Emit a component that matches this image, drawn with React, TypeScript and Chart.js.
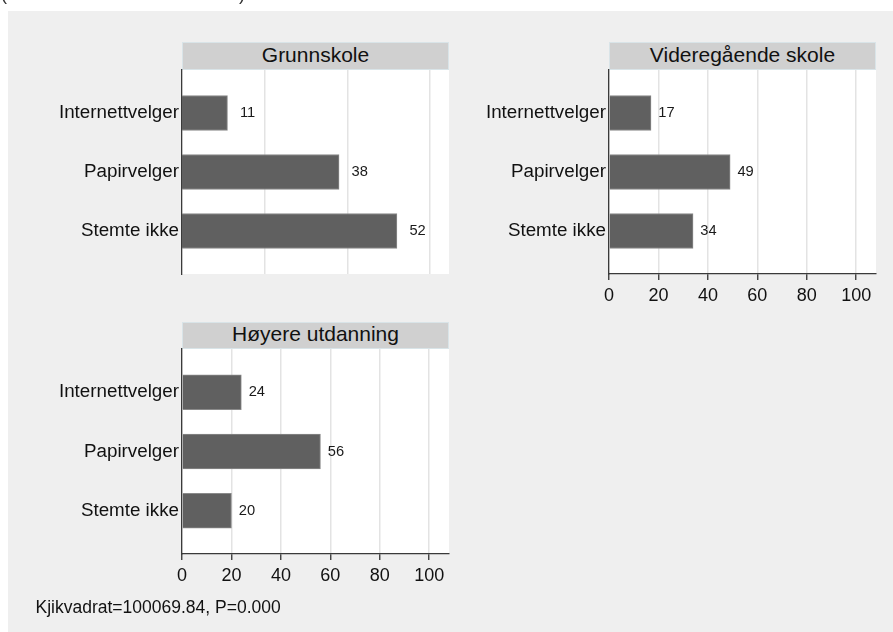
import React, { useEffect, useRef } from "react";
import { Chart, registerables } from "chart.js";

Chart.register(...registerables);

// Answer categories shown on the y axis of every panel
const categories = ["Internettvelger", "Papirvelger", "Stemte ikke"];

// Panel headings (education level)
const titleGrunnskole = "Grunnskole";
const titleVideregaende = "Videregående skole";
const titleHoyere = "Høyere utdanning";

// Percent per category within each education level
const grunnskole = [11, 38, 52];
const videregaende = [17, 49, 34];
const hoyere = [24, 56, 20];

// Tick values on the x axes
const ticksFull = [0, 20, 40, 60, 80, 100];
const ticksShort = [20, 40, 60];

const noteText = "Kjikvadrat=100069.84, P=0.000";

const FONT = "'Liberation Sans', Arial, Helvetica, sans-serif";
const Y_AXIS_W = 172;
const PLOT_W = 267;

const plotBackground = {
  id: "plotBackground",
  beforeDraw(chart: any) {
    const { ctx, chartArea } = chart;
    ctx.save();
    ctx.fillStyle = "#ffffff";
    ctx.fillRect(chartArea.left, chartArea.top, chartArea.right - chartArea.left, chartArea.bottom - chartArea.top);
    ctx.restore();
  },
};

const valueLabels = {
  id: "valueLabels",
  afterDatasetsDraw(chart: any, _args: any, opts: any) {
    const { ctx } = chart;
    const meta = chart.getDatasetMeta(0);
    const data = chart.data.datasets[0].data;
    ctx.save();
    ctx.font = `14.7px ${FONT}`;
    ctx.fillStyle = "#1a1a1a";
    ctx.textAlign = "left";
    ctx.textBaseline = "middle";
    meta.data.forEach((el: any, i: number) => {
      ctx.fillText(String(data[i].x), el.x + opts.gap, el.y);
    });
    ctx.restore();
  },
};

type PanelProps = {
  title: string;
  values: number[];
  xMax: number;
  ticks: number[];
  showAxis: boolean;
  gap: number;
  plotLeft: number;
  plotTop: number;
  plotH: number;
  headerH: number;
  headerLine: number;
};

function Panel(p: PanelProps) {
  const ref = useRef<HTMLCanvasElement>(null);
  const padTop = 16;
  const axisH = p.showAxis ? 44 : 0;
  const padBottom = p.showAxis ? 0 : 16;
  const canvasW = Y_AXIS_W + PLOT_W + 12;
  const canvasH = padTop + p.plotH + axisH + padBottom;

  useEffect(() => {
    if (!ref.current) return;
    const chart = new Chart(ref.current, {
      type: "bar",
      data: {
        datasets: [
          {
            data: p.values.map((v, i) => ({ x: v, y: i })),
            backgroundColor: "#606060",
            borderColor: "#8a8a8a",
            borderWidth: 1,
            barThickness: 35,
          },
        ],
      },
      options: {
        indexAxis: "y",
        animation: false,
        responsive: false,
        layout: { padding: { top: padTop, right: 12, left: 0, bottom: padBottom } },
        plugins: {
          legend: { display: false },
          tooltip: { enabled: false },
          valueLabels: { gap: p.gap },
        } as any,
        scales: {
          x: {
            type: "linear",
            min: 0,
            max: p.xMax,
            offset: false,
            afterBuildTicks: (s: any) => {
              s.ticks = p.ticks.map((v) => ({ value: v }));
            },
            afterFit: (s: any) => {
              s.height = axisH;
            },
            grid: {
              color: "#e3e3e3",
              lineWidth: 1.5,
              drawTicks: p.showAxis,
              tickLength: 6,
              tickColor: "#333333",
              tickWidth: 1.3,
            },
            border: { display: p.showAxis, color: "#3a3a3a", width: 1.3 },
            ticks: {
              display: p.showAxis,
              font: { family: FONT, size: 18 },
              color: "#111111",
              padding: 5.5,
              maxRotation: 0,
            },
          },
          y: {
            type: "linear",
            reverse: true,
            offset: false,
            min: -0.729,
            max: 2.729,
            afterBuildTicks: (s: any) => {
              s.ticks = categories.map((_, i) => ({ value: i }));
            },
            afterFit: (s: any) => {
              s.width = Y_AXIS_W;
            },
            grid: { display: false, drawTicks: false, offset: false },
            border: { display: true, color: "#3a3a3a", width: 1.3 },
            ticks: {
              callback: (v: any) => categories[v as number],
              font: { family: FONT, size: 18.8 },
              color: "#111111",
              padding: 3,
              autoSkip: false,
            },
          },
        },
      } as any,
      plugins: [plotBackground, valueLabels],
    });
    return () => chart.destroy();
  }, []);

  return (
    <>
      <div
        style={{
          position: "absolute",
          left: p.plotLeft,
          top: p.plotTop - p.headerH,
          width: PLOT_W,
          height: p.headerH,
          boxSizing: "border-box",
          background: "#d0d0d0",
          border: "1px solid #d9e4e8",
          textAlign: "center",
          fontFamily: FONT,
          fontSize: 21,
          lineHeight: `${p.headerLine}px`,
          color: "#111111",
          whiteSpace: "nowrap",
        }}
      >
        {p.title}
      </div>
      <canvas
        ref={ref}
        width={canvasW}
        height={canvasH}
        style={{
          position: "absolute",
          left: p.plotLeft - Y_AXIS_W,
          top: p.plotTop - padTop,
          width: canvasW,
          height: canvasH,
        }}
      />
    </>
  );
}

export default function App() {
  return (
    <>
      <span
        style={{
          position: "fixed",
          left: 1,
          top: -16,
          fontFamily: FONT,
          fontSize: 18,
          lineHeight: "20px",
          color: "#333",
        }}
      >
        (
      </span>
      <span
        style={{
          position: "fixed",
          left: 239,
          top: -16,
          fontFamily: FONT,
          fontSize: 18,
          lineHeight: "20px",
          color: "#333",
        }}
      >
        )
      </span>
      <div
        style={{
          position: "fixed",
          left: 8,
          top: 11,
          width: 885,
          height: 621,
          background: "#efefef",
          overflow: "hidden",
        }}
      >
        <Panel
          title={titleGrunnskole}
          values={grunnskole}
          xMax={64.6}
          ticks={ticksShort}
          showAxis={false}
          gap={12.5}
          plotLeft={174}
          plotTop={59}
          plotH={204}
          headerH={28}
          headerLine={23.5}
        />
        <Panel
          title={titleVideregaende}
          values={videregaende}
          xMax={108}
          ticks={ticksFull}
          showAxis={true}
          gap={7.3}
          plotLeft={601}
          plotTop={59}
          plotH={204}
          headerH={28}
          headerLine={23.5}
        />
        <Panel
          title={titleHoyere}
          values={hoyere}
          xMax={108}
          ticks={ticksFull}
          showAxis={true}
          gap={7.3}
          plotLeft={174}
          plotTop={338}
          plotH={205}
          headerH={27}
          headerLine={21}
        />
        <div
          style={{
            position: "absolute",
            left: 27.5,
            top: 586,
            fontFamily: FONT,
            fontSize: 17.5,
            lineHeight: "20px",
            color: "#111111",
            whiteSpace: "nowrap",
          }}
        >
          {noteText}
        </div>
      </div>
    </>
  );
}
